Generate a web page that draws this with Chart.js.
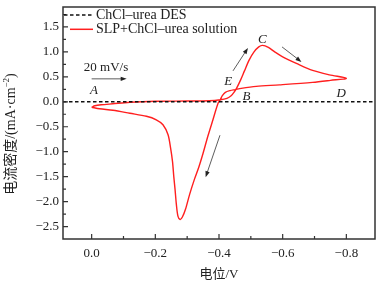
<!DOCTYPE html>
<html>
<head>
<meta charset="utf-8">
<script src="https://cdn.jsdelivr.net/npm/chart.js@4.4.1/dist/chart.umd.min.js"></script>
<style>
    html, body { margin: 0; padding: 0; background: #fff; }
</style>
</head>
<body>
<canvas id="cv-chart" width="386" height="288"></canvas>
<script>
// Values: potential (V) vs current density (mA/cm2)
const desPotential = [0.09, -0.89];
const desCurrent = [0, 0];

// closed CV loop, starting at A and going round once
const slpPotential = [
    0.0, -0.01, -0.03, -0.066, -0.12, -0.2, -0.3, -0.37, -0.404, -0.425,
    -0.438, -0.447, -0.455, -0.468, -0.48, -0.495, -0.51, -0.525, -0.537, -0.555,
    -0.575, -0.6, -0.643, -0.694, -0.747, -0.8,
    -0.75, -0.694, -0.59, -0.517, -0.47, -0.451, -0.435, -0.42, -0.41, -0.404,
    -0.397, -0.381, -0.365, -0.35, -0.337, -0.323, -0.308, -0.295, -0.285, -0.278,
    -0.271, -0.266, -0.262, -0.258, -0.254, -0.248, -0.24, -0.224, -0.203, -0.172,
    -0.12, -0.067, -0.025, 0.0
];
const slpCurrent = [
    -0.11, -0.08, -0.06, -0.04, -0.01, 0.01, 0.015, 0.02, 0.04, 0.07,
    0.12, 0.19, 0.27, 0.44, 0.62, 0.84, 1.0, 1.1, 1.13, 1.09,
    1.0, 0.9, 0.77, 0.63, 0.54, 0.47,
    0.43, 0.39, 0.34, 0.31, 0.27, 0.245, 0.225, 0.19, 0.12, 0.04,
    -0.03, -0.36, -0.69, -1.03, -1.3, -1.55, -1.85, -2.15, -2.31, -2.36,
    -2.29, -2.05, -1.76, -1.5, -1.2, -0.93, -0.66, -0.46, -0.36, -0.29,
    -0.23, -0.17, -0.14, -0.11
];

const xTickValues = [0, -0.2, -0.4, -0.6, -0.8];
const xTickLabels = ['0.0', '\u22120.2', '\u22120.4', '\u22120.6', '\u22120.8'];
const yTickValues = [1.5, 1.0, 0.5, 0, -0.5, -1.0, -1.5, -2.0, -2.5];
const yTickLabels = ['1.5', '1.0', '0.5', '0.0', '\u22120.5', '\u22121.0', '\u22121.5', '\u22122.0', '\u22122.5'];

const seriesNames = ['ChCl\u2013urea DES', 'SLP+ChCl\u2013urea solution'];
const yTitleParts = ['电流密度/(mA\u00b7cm', '\u22122', ')'];

const SERIF = "'Liberation Serif', 'Times New Roman', 'Noto Sans CJK SC', serif";
const INK = '#222';
const RED = '#ff1f1f';

// point labels and arrows, placed in data units
const notes = [
    { text: 'A', x: -0.007, y: 0.22, italic: true },
    { text: 'B', x: -0.486, y: 0.10, italic: true },
    { text: 'C', x: -0.536, y: 1.24, italic: true },
    { text: 'D', x: -0.784, y: 0.17, italic: true },
    { text: 'E', x: -0.429, y: 0.40, italic: true },
    { text: '20 mV/s', x: -0.045, y: 0.68, italic: false }
];
const arrows = [
    { from: [0.0, 0.46], to: [-0.11, 0.46] },
    { from: [-0.444, 0.62], to: [-0.491, 1.08] },
    { from: [-0.598, 1.10], to: [-0.659, 0.80] },
    { from: [-0.403, -0.67], to: [-0.358, -1.51] }
];

function toPoints(xs, ys) {
    return xs.map((v, i) => ({ x: v, y: ys[i] }));
}

function drawArrow(ctx, x1, y1, x2, y2) {
    const ang = Math.atan2(y2 - y1, x2 - x1);
    const len = 6, half = 2.2;
    ctx.beginPath();
    ctx.moveTo(x1, y1);
    ctx.lineTo(x2 - Math.cos(ang) * len * 0.8, y2 - Math.sin(ang) * len * 0.8);
    ctx.stroke();
    ctx.beginPath();
    ctx.moveTo(x2, y2);
    ctx.lineTo(x2 - Math.cos(ang) * len + Math.sin(ang) * half, y2 - Math.sin(ang) * len - Math.cos(ang) * half);
    ctx.lineTo(x2 - Math.cos(ang) * len - Math.sin(ang) * half, y2 - Math.sin(ang) * len + Math.cos(ang) * half);
    ctx.closePath();
    ctx.fill();
}

// y title drawn by hand so the "-2" can sit as a superscript
function drawYTitle(ctx, cx, cy) {
    const big = '14px ' + SERIF, small = '9px ' + SERIF;
    ctx.save();
    ctx.translate(cx, cy);
    ctx.rotate(-Math.PI / 2);
    ctx.textBaseline = 'alphabetic';
    ctx.textAlign = 'left';
    ctx.font = big;
    const w0 = ctx.measureText(yTitleParts[0]).width;
    const w2 = ctx.measureText(yTitleParts[2]).width;
    ctx.font = small;
    const w1 = ctx.measureText(yTitleParts[1]).width;
    let px = -(w0 + w1 + w2) / 2;
    const base = 5;
    ctx.fillStyle = INK;
    ctx.font = big;
    ctx.fillText(yTitleParts[0], px, base);
    px += w0;
    ctx.font = small;
    ctx.fillText(yTitleParts[1], px, base - 6);
    px += w1;
    ctx.font = big;
    ctx.fillText(yTitleParts[2], px, base);
    ctx.restore();
}

const framePlugin = {
    id: 'frame',
    afterDraw(chart) {
        const { ctx, chartArea: a, scales: { x, y } } = chart;
        ctx.save();

        // inward ticks, major and minor
        ctx.strokeStyle = '#333';
        ctx.lineWidth = 1.2;
        ctx.beginPath();
        xTickValues.forEach(v => {
            const px = x.getPixelForValue(v);
            ctx.moveTo(px, a.bottom); ctx.lineTo(px, a.bottom - 5);
            const mid = v - 0.1;
            if (mid >= x.min) {
                const pm = x.getPixelForValue(mid);
                ctx.moveTo(pm, a.bottom); ctx.lineTo(pm, a.bottom - 3);
            }
        });
        yTickValues.forEach(v => {
            const py = y.getPixelForValue(v);
            ctx.moveTo(a.left, py); ctx.lineTo(a.left + 5, py);
            [v + 0.25, v - 0.25].forEach(m => {
                if (m < y.max && m > y.min) {
                    const pm = y.getPixelForValue(m);
                    ctx.moveTo(a.left, pm); ctx.lineTo(a.left + 3, pm);
                }
            });
        });
        ctx.stroke();

        // frame
        ctx.lineWidth = 1.5;
        ctx.strokeRect(a.left, a.top, a.right - a.left, a.bottom - a.top);

        // legend
        ctx.lineWidth = 1.5;
        ctx.strokeStyle = '#111';
        ctx.setLineDash([3.5, 2.5]);
        ctx.beginPath();
        ctx.moveTo(a.left + 1, 15); ctx.lineTo(93, 15);
        ctx.stroke();
        ctx.setLineDash([]);
        ctx.strokeStyle = RED;
        ctx.beginPath();
        ctx.moveTo(70, 29.3); ctx.lineTo(93, 29.3);
        ctx.stroke();
        ctx.fillStyle = INK;
        ctx.font = '14px ' + SERIF;
        ctx.textBaseline = 'middle';
        ctx.textAlign = 'left';
        ctx.fillText(seriesNames[0], 96, 15);
        ctx.fillText(seriesNames[1], 96, 29.5);

        // point labels
        ctx.textAlign = 'center';
        notes.forEach(n => {
            ctx.font = (n.italic ? 'italic ' : '') + '13px ' + SERIF;
            ctx.fillText(n.text, x.getPixelForValue(n.x), y.getPixelForValue(n.y));
        });

        // arrows
        ctx.strokeStyle = '#333';
        ctx.fillStyle = '#222';
        ctx.lineWidth = 0.8;
        arrows.forEach(ar => {
            drawArrow(ctx,
                x.getPixelForValue(ar.from[0]), y.getPixelForValue(ar.from[1]),
                x.getPixelForValue(ar.to[0]), y.getPixelForValue(ar.to[1]));
        });

        ctx.restore();

        drawYTitle(ctx, 10, 134);
    }
};

const ctx = document.getElementById('cv-chart').getContext('2d');
const cvChart = new Chart(ctx, {
    type: 'scatter',
    data: {
        datasets: [
            {
                label: seriesNames[0],
                data: toPoints(desPotential, desCurrent),
                showLine: true,
                borderColor: '#111',
                borderWidth: 1.5,
                borderDash: [3.5, 2.5],
                pointRadius: 0
            },
            {
                label: seriesNames[1],
                data: toPoints(slpPotential, slpCurrent),
                showLine: true,
                borderColor: RED,
                borderWidth: 1.4,
                tension: 0.3,
                pointRadius: 0
            }
        ]
    },
    options: {
        responsive: false,
        animation: false,
        devicePixelRatio: 1,
        layout: { padding: { top: 7, right: 11, left: 0, bottom: 0 } },
        plugins: {
            legend: { display: false },
            tooltip: { enabled: false }
        },
        scales: {
            x: {
                type: 'linear',
                reverse: true,
                min: -0.89,
                max: 0.09,
                afterBuildTicks: s => { s.ticks = xTickValues.map(v => ({ value: v })); },
                afterFit: s => { s.height = 49; s.paddingLeft = 0; s.paddingRight = 0; },
                ticks: {
                    callback: v => xTickLabels[xTickValues.indexOf(v)],
                    padding: 7,
                    color: INK,
                    font: { family: SERIF, size: 13 },
                    maxRotation: 0
                },
                grid: { display: false, drawTicks: false },
                border: { display: false },
                title: {
                    display: true,
                    text: '电位/V',
                    color: INK,
                    font: { family: SERIF, size: 13 },
                    padding: { top: 0, bottom: 6 }
                }
            },
            y: {
                type: 'linear',
                min: -2.75,
                max: 1.9,
                afterBuildTicks: s => { s.ticks = yTickValues.map(v => ({ value: v })); },
                afterFit: s => { s.width = 63; s.paddingTop = 0; s.paddingBottom = 0; },
                ticks: {
                    callback: v => yTickLabels[yTickValues.indexOf(v)],
                    padding: 4,
                    color: INK,
                    font: { family: SERIF, size: 13 }
                },
                grid: { display: false, drawTicks: false },
                border: { display: false },
                title: { display: false }
            }
        }
    },
    plugins: [framePlugin]
});
</script>
</body>
</html>
